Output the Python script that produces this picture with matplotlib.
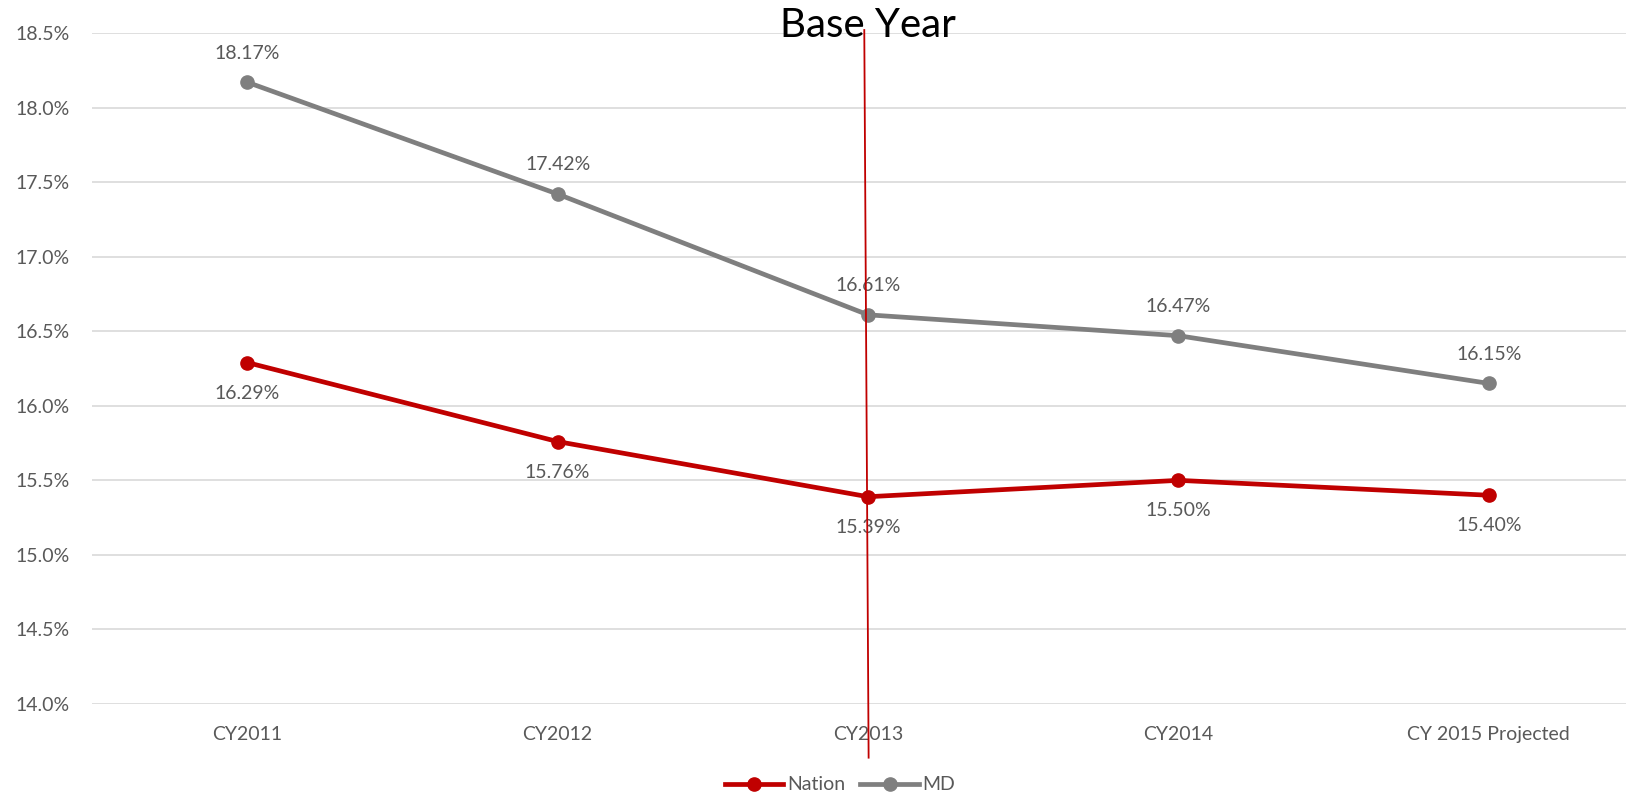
import matplotlib
matplotlib.use("Agg")
import matplotlib.pyplot as plt
from matplotlib.ticker import FuncFormatter

categories = ["CY2011", "CY2012", "CY2013", "CY2014", "CY 2015 Projected"]
nation = [16.29, 15.76, 15.39, 15.50, 15.40]
md = [18.17, 17.42, 16.61, 16.47, 16.15]
yticks = [14.0, 14.5, 15.0, 15.5, 16.0, 16.5, 17.0, 17.5, 18.0, 18.5]
base_year_index = 2

plt.rcParams['font.family'] = ['Lato', 'DejaVu Sans']

RED = "#C00000"
GREY = "#7F7F7F"
TXT = "#595959"

fig = plt.figure(figsize=(16.26, 7.96), dpi=100)
ax = fig.add_axes([92/1626, 1-704/796, 1552/1626, (704-33)/796])

x = list(range(len(categories)))
ax.plot(x, nation, color=RED, lw=3.4, marker='o', ms=9.5, label="Nation", zorder=3)
ax.plot(x, md, color=GREY, lw=3.4, marker='o', ms=9.5, label="MD", zorder=3)

for xi, v in zip(x, md):
    ax.annotate(f"{v:.2f}%", (xi, v), xytext=(0, 21), textcoords='offset points',
                ha='center', va='center', fontsize=14, color=TXT)
for xi, v in zip(x, nation):
    ax.annotate(f"{v:.2f}%", (xi, v), xytext=(0, -22), textcoords='offset points',
                ha='center', va='center', fontsize=14, color=TXT)

ax.set_xlim(-0.5, len(categories) - 0.5)
ax.set_ylim(14.0, 18.5)
ax.set_yticks(yticks)
ax.yaxis.set_major_formatter(FuncFormatter(lambda v, p: f"{v:.1f}%"))
ax.set_xticks(x)
ax.set_xticklabels(categories)
ax.tick_params(axis='y', length=0, pad=16, labelsize=14, labelcolor=TXT)
ax.tick_params(axis='x', length=0, pad=16, labelsize=14, labelcolor=TXT)
ax.grid(axis='y', color="#D9D9D9", lw=1.2)
ax.set_axisbelow(True)
for s in ax.spines.values():
    s.set_visible(False)

# Base year marker line (slightly slanted, as in the source)
ax.plot([base_year_index - 0.012, base_year_index + 0.002], [18.52, 13.64],
        color=RED, lw=1.3, clip_on=False, zorder=4)
ax.text(base_year_index, 18.55, "Base Year", ha='center', va='center',
        fontsize=29, color='black', zorder=5)

fig.legend(loc='center', bbox_to_anchor=(840/1626, 1-785/796), ncol=2,
           frameon=False, fontsize=14, labelcolor=TXT, handlelength=3.0,
           columnspacing=0.8, handletextpad=0.2)

fig.savefig("out.png", dpi=100)
